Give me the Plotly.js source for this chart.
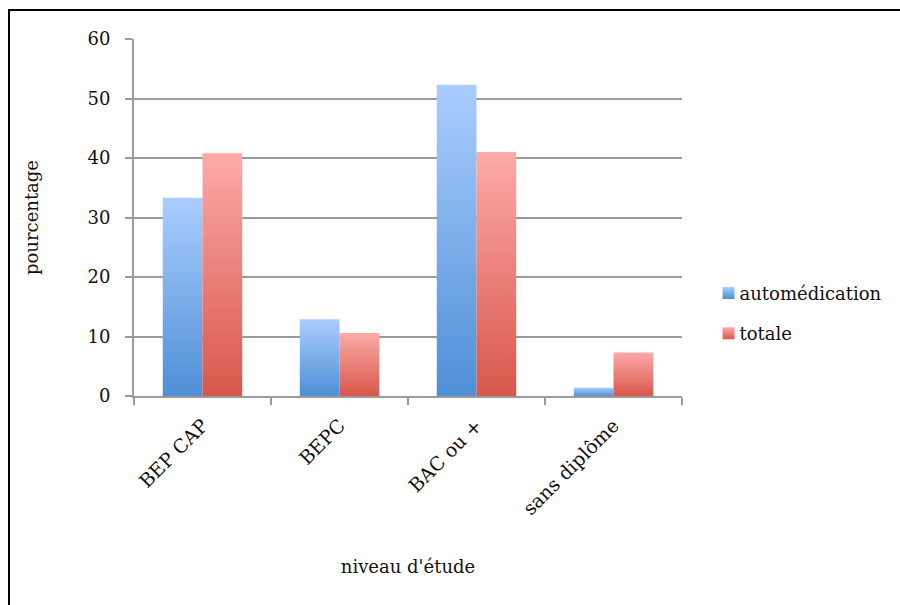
<!DOCTYPE html>
<html>
<head>
<meta charset="utf-8">
<script src="https://cdn.plot.ly/plotly-3.0.1.min.js"></script>
<style>
  html, body { margin: 0; padding: 0; background: #fff; }
  #chart { width: 900px; height: 605px; }
</style>
</head>
<body>
<div id="chart"></div>
<script>
const categories = ["BEP CAP", "BEPC", "BAC ou +", "sans diplôme"];
const automedication = [33.3, 12.9, 52.3, 1.4];
const totale = [40.8, 10.6, 41.0, 7.3];
const seriesNames = ["automédication", "totale"];
const yTicks = [0, 10, 20, 30, 40, 50, 60];

const FONT = "DejaVu Serif";
const GRID = "#9a9a9a";

const traces = [
  { type: "bar", name: seriesNames[0], x: categories, y: automedication,
    marker: { color: "#7aaeea", line: { width: 0 } }, legendgroup: "a" },
  { type: "bar", name: seriesNames[1], x: categories, y: totale,
    marker: { color: "#ec807a", line: { width: 0 } }, legendgroup: "b" }
];

const layout = {
  width: 900, height: 605,
  margin: { l: 134, r: 218, t: 39, b: 209, autoexpand: false },
  paper_bgcolor: "#fff", plot_bgcolor: "#fff",
  font: { family: FONT, size: 18, color: "#111" },
  barmode: "group", bargap: 0.42, bargroupgap: 0,
  showlegend: true,
  legend: { x: 1.032, y: 0.232, xanchor: "left", yanchor: "middle",
            traceorder: "grouped", tracegroupgap: 14,
            font: { family: FONT, size: 18, color: "#111" }, itemwidth: 30 },
  xaxis: {
    type: "category", tickangle: -45, showgrid: false, automargin: false,
    showline: true, linecolor: GRID, linewidth: 2,
    ticks: "outside", ticklen: 7, tickcolor: GRID, tickwidth: 2,
    tickson: "boundaries", ticklabelstandoff: 9,
    tickfont: { family: FONT, size: 19, color: "#111" },
    title: { text: "niveau d'étude", font: { family: FONT, size: 18, color: "#111" }, standoff: 42 }
  },
  yaxis: {
    range: [0, 60], tickvals: yTicks, showgrid: true, gridcolor: GRID, gridwidth: 2,
    showline: true, linecolor: GRID, linewidth: 2, zeroline: false, automargin: false,
    ticks: "outside", ticklen: 7, tickcolor: GRID, tickwidth: 2,
    ticklabelstandoff: 11,
    tickfont: { family: FONT, size: 18, color: "#111" },
    title: { text: "pourcentage", font: { family: FONT, size: 18, color: "#111" }, standoff: 44 }
  },
  shapes: [{
    type: "rect", xref: "paper", yref: "paper",
    x0: (9 - 134) / 548, x1: 1.6, y0: -0.8, y1: (396 - 10) / 357,
    line: { color: "#000", width: 2 }, fillcolor: "rgba(0,0,0,0)", layer: "below"
  }]
};

function addGradients(gd) {
  const svg = gd.querySelector(".main-svg");
  let defs = svg.querySelector("defs");
  const ns = "http://www.w3.org/2000/svg";
  const grads = [
    { id: "gBlue", top: "#aacdfe", bottom: "#4e8fd6" },
    { id: "gRed", top: "#fdaaa8", bottom: "#d8574b" }
  ];
  grads.forEach(g => {
    if (svg.querySelector("#" + g.id)) return;
    const lg = document.createElementNS(ns, "linearGradient");
    lg.setAttribute("id", g.id);
    lg.setAttribute("x1", "0"); lg.setAttribute("y1", "0");
    lg.setAttribute("x2", "0"); lg.setAttribute("y2", "1");
    [[0, g.top], [1, g.bottom]].forEach(([o, c]) => {
      const s = document.createElementNS(ns, "stop");
      s.setAttribute("offset", o); s.setAttribute("stop-color", c);
      lg.appendChild(s);
    });
    defs.appendChild(lg);
  });
  const barTraces = gd.querySelectorAll(".barlayer .trace");
  barTraces.forEach((t, i) => {
    t.querySelectorAll("path").forEach(p => { p.style.fill = "url(#" + grads[i].id + ")"; });
  });
  const legendTraces = gd.querySelectorAll(".legend .traces");
  legendTraces.forEach((t, i) => {
    const lp = t.querySelector(".legendpoints");
    if (lp) lp.setAttribute("transform", "translate(9,0)");
    t.querySelectorAll(".legendpoints path").forEach(p => { p.style.fill = "url(#" + grads[i].id + ")"; });
  });
}

Plotly.newPlot("chart", traces, layout, { staticPlot: true }).then(addGradients);
</script>
</body>
</html>
